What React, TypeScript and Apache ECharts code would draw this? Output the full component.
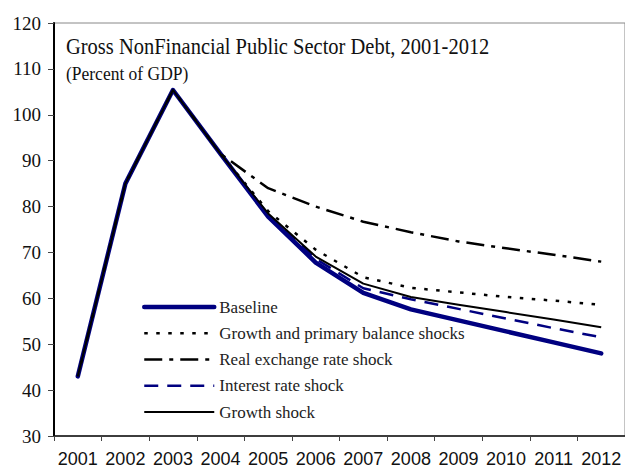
import React, { useEffect, useRef } from "react";
import * as echarts from "echarts";

const years = ["2001", "2002", "2003", "2004", "2005", "2006", "2007", "2008", "2009", "2010", "2011", "2012"];
const baseline = [43.0, 85.0, 105.4, 91.5, 77.8, 67.8, 61.2, 57.6, 55.2, 52.8, 50.4, 48.0];
const growthPrimary = [43.0, 85.0, 105.4, 91.5, 79.0, 70.6, 64.6, 62.3, 61.3, 60.3, 59.5, 58.6];
const realExchange = [43.0, 85.0, 105.4, 91.5, 84.0, 80.0, 76.7, 74.4, 72.4, 70.9, 69.5, 68.0];
const interestRate = [43.0, 85.0, 105.4, 91.5, 78.2, 68.6, 62.2, 59.8, 57.7, 55.6, 53.5, 51.5];
const growthShock = [43.0, 85.0, 105.4, 91.5, 78.5, 69.1, 63.2, 60.3, 58.6, 57.0, 55.4, 53.7];
const yTicks = { min: 30, max: 120, interval: 10 };

const serif = "'Liberation Serif', 'Times New Roman', serif";
const sans = "'Liberation Sans Narrow', 'Arial Narrow', 'Liberation Sans', Arial, sans-serif";

export default function App() {
  const ref = useRef<HTMLDivElement>(null);
  useEffect(() => {
    if (!ref.current) return;
    const chart = echarts.init(ref.current, undefined, { renderer: "svg" });
    const mk = (name: string, data: number[], color: string, width: number, type: any, cap = "butt") => ({
      name,
      type: "line",
      data,
      symbol: "none",
      lineStyle: { color, width, type, cap, join: "round" },
      itemStyle: { color },
    });
    chart.setOption({
      animation: false,
      backgroundColor: "#ffffff",
      grid: { left: 54, top: 23, width: 575, height: 413, show: true, borderColor: "#888", borderWidth: 1 },
      xAxis: {
        type: "category",
        data: years,
        boundaryGap: true,
        axisLine: { lineStyle: { color: "#111", width: 1.5 } },
        axisTick: { show: true, length: 5, lineStyle: { color: "#444" } },
        axisLabel: { interval: 0, margin: 14, fontFamily: sans, fontSize: 18, color: "#111" },
        splitLine: { show: false },
      },
      yAxis: {
        type: "value",
        min: yTicks.min,
        max: yTicks.max,
        interval: yTicks.interval,
        axisLine: { show: true, lineStyle: { color: "#000", width: 2 } },
        axisTick: { show: true, length: 6, lineStyle: { color: "#444" } },
        axisLabel: { margin: 13, fontFamily: serif, fontSize: 19, color: "#111" },
        splitLine: { show: false },
      },
      legend: {
        orient: "vertical",
        left: 142,
        top: 298.5,
        padding: 0,
        itemWidth: 70,
        itemHeight: 14,
        itemGap: 9.25,
        itemStyle: { opacity: 0 },
        lineStyle: { width: "inherit" },
        textStyle: { fontFamily: serif, fontSize: 17, lineHeight: 16, color: "#222" },
        data: [
          "Baseline",
          "Growth and primary balance shocks",
          "Real exchange rate shock",
          "Interest rate shock",
          "Growth shock",
        ],
      },
      graphic: [
        {
          type: "text",
          x: 66,
          y: 34,
          scaleY: 1.15,
          style: { text: "Gross NonFinancial Public Sector Debt, 2001-2012", fontFamily: serif, fontSize: 20.5, fill: "#111" },
        },
        {
          type: "text",
          x: 66,
          y: 64,
          scaleY: 1.1,
          style: { text: "(Percent of GDP)", fontFamily: serif, fontSize: 17.5, fill: "#111" },
        },
      ],
      series: [
        mk("Baseline", baseline, "#000080", 4.5, "solid", "round"),
        mk("Growth and primary balance shocks", growthPrimary, "#000", 2.5, [3.5, 8.5]),
        mk("Real exchange rate shock", realExchange, "#000", 2.5, [18, 7, 4, 7]),
        mk("Interest rate shock", interestRate, "#000080", 2.5, [14, 9]),
        mk("Growth shock", growthShock, "#000", 2, "solid"),
      ],
    });
    return () => chart.dispose();
  }, []);
  return <div ref={ref} style={{ width: 625, height: 468, position: "absolute", left: 0, top: 0 }} />;
}
